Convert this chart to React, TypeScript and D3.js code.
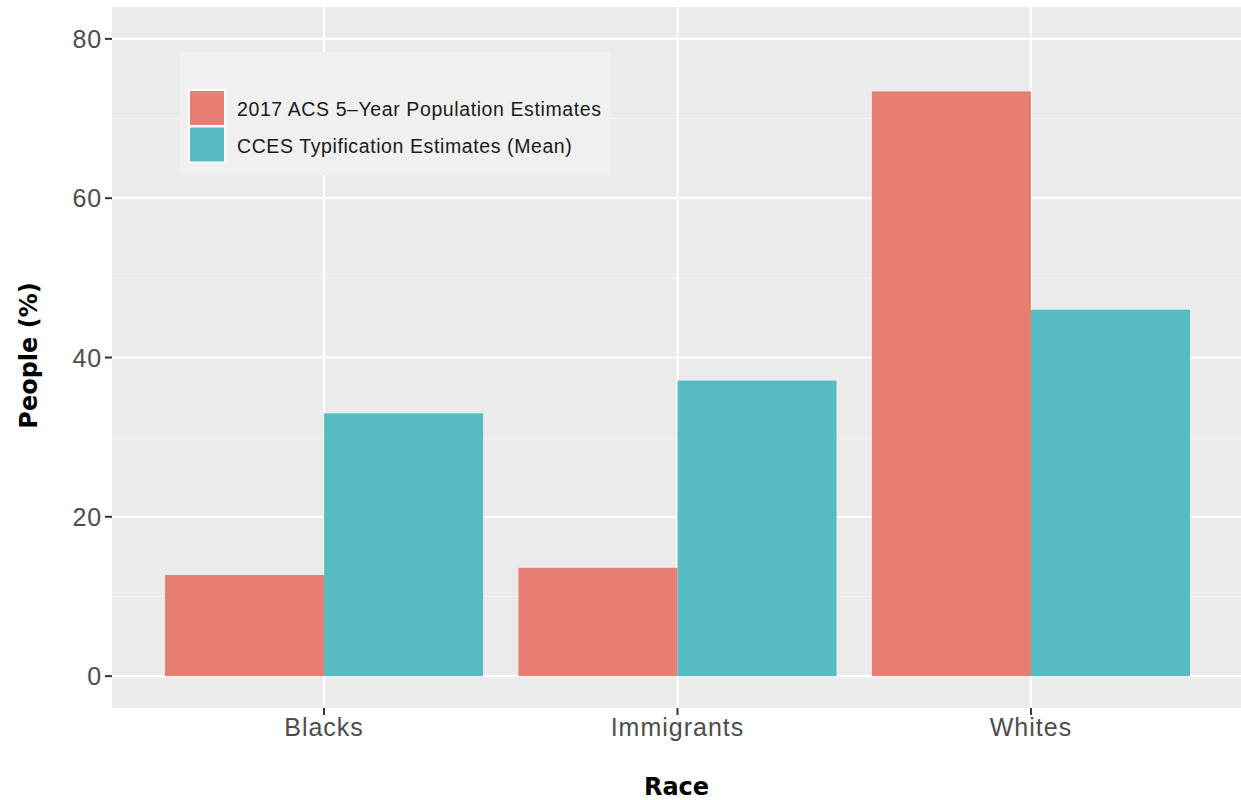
import React from "react";
import * as d3 from "d3";

const categories = ["Blacks", "Immigrants", "Whites"];
const seriesNames = ["2017 ACS 5\u2013Year Population Estimates", "CCES Typification Estimates (Mean)"];
const acsValues = [12.7, 13.6, 73.4];
const ccesValues = [33.0, 37.1, 46.0];
const yTicks = [0, 20, 40, 60, 80];
const yMinor = [10, 30, 50, 70];
const colors = ["#E87D72", "#56BCC2"];

const W = 1241;
const H = 800;
const panel = { left: 112, top: 7, right: 1243, bottom: 708 };

export default function App() {
  const n = categories.length;
  const step = (panel.right - panel.left) / (n - 1 + 1.2);
  const x = d3
    .scalePoint<string>()
    .domain(categories)
    .range([panel.left + 0.6 * step, panel.right - 0.6 * step]);
  const bandW = 0.9 * step;
  const y = d3.scaleLinear().domain([-4, 84]).range([panel.bottom, panel.top]);
  const series = [acsValues, ccesValues];
  const font = "'Liberation Sans', Arial, Helvetica, sans-serif";
  const boldFont = "'DejaVu Sans', 'Liberation Sans', Arial, sans-serif";

  return (
    <svg width={W} height={H} style={{ position: "absolute", left: 0, top: 0 }} fontFamily={font}>
      <rect x={0} y={0} width={W} height={H} fill="#fff" />
      <rect x={panel.left} y={panel.top} width={panel.right - panel.left} height={panel.bottom - panel.top} fill="#EBEBEB" />
      {yMinor.map((v) => (
        <line key={"mn" + v} x1={panel.left} x2={panel.right} y1={y(v)} y2={y(v)} stroke="#F4F4F4" strokeWidth={1.2} />
      ))}
      {yTicks.map((v) => (
        <line key={"mj" + v} x1={panel.left} x2={panel.right} y1={y(v)} y2={y(v)} stroke="#fff" strokeWidth={2.2} />
      ))}
      {categories.map((c) => (
        <line key={"vx" + c} x1={x(c)} x2={x(c)} y1={panel.top} y2={panel.bottom} stroke="#fff" strokeWidth={2.2} />
      ))}
      {categories.map((c, i) =>
        series.map((vals, s) => {
          const x0 = (x(c) as number) - bandW / 2 + (s * bandW) / 2;
          return (
            <rect
              key={c + s}
              x={x0}
              y={y(vals[i])}
              width={bandW / 2}
              height={y(0) - y(vals[i])}
              fill={colors[s]}
            />
          );
        })
      )}
      {/* y axis ticks */}
      {yTicks.map((v) => (
        <g key={"yt" + v}>
          <line x1={panel.left - 7} x2={panel.left} y1={y(v)} y2={y(v)} stroke="#333" strokeWidth={2} />
          <text x={panel.left - 10} y={y(v)} dy="0.36em" textAnchor="end" fontSize={25} letterSpacing={0.8} fill="#4D4D4D">
            {v}
          </text>
        </g>
      ))}
      {/* x axis ticks */}
      {categories.map((c) => (
        <g key={"xt" + c}>
          <line x1={x(c)} x2={x(c)} y1={panel.bottom} y2={panel.bottom + 7} stroke="#333" strokeWidth={2} />
          <text x={x(c)} y={736} textAnchor="middle" fontSize={25} letterSpacing={1} fill="#4D4D4D">
            {c}
          </text>
        </g>
      ))}
      <text x={(panel.left + panel.right) / 2 - 1} y={795} textAnchor="middle" fontSize={24} fontWeight="bold" fontFamily={boldFont} fill="#000">
        Race
      </text>
      <text
        transform={`translate(37, ${(panel.top + panel.bottom) / 2 - 2}) rotate(-90)`}
        textAnchor="middle"
        fontSize={24}
        fontWeight="bold"
        fontFamily={boldFont}
        fill="#000"
      >
        People (%)
      </text>
      {/* legend */}
      <rect x={180} y={52} width={431} height={123} fill="#F0F0F0" />
      {seriesNames.map((name, i) => (
        <g key={"lg" + i}>
          <rect x={188} y={89 + i * 36.5} width={38} height={37} fill="#fff" />
          <rect x={190} y={91 + i * 36.5} width={34} height={34} fill={colors[i]} />
          <text x={237} y={116 + i * 37} fontSize={19.5} letterSpacing={0.6} fill="#1A1A1A">
            {name}
          </text>
        </g>
      ))}
    </svg>
  );
}
